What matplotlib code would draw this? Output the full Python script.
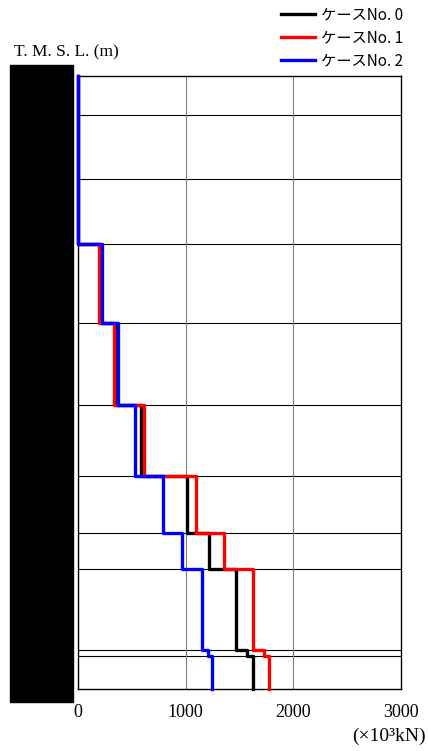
import matplotlib as mpl
mpl.use('Agg')
import matplotlib.pyplot as plt
from matplotlib.patches import Rectangle
import numpy as np

plt.rcParams['font.family'] = ['Liberation Serif', 'Noto Sans CJK JP', 'DejaVu Sans']

# floor levels (schematic position from top, no labels shown)
levels = [0, 39, 103, 168, 247, 329, 400, 457, 493, 574, 580, 613]

# shear force per storey (x10^3 kN), top to bottom
case0 = [0, 0, 0, 205, 340, 582, 1009, 1216, 1464, 1572, 1628]
case1 = [0, 0, 0, 198, 337, 613, 1093, 1358, 1628, 1727, 1773]
case2 = [0, 0, 0, 220, 368, 529, 792, 963, 1148, 1210, 1247]

labels = ['ケースNo. 0', 'ケースNo. 1', 'ケースNo. 2']
colors = ['black', 'red', 'blue']
xticks = [0, 1000, 2000, 3000]


def step_xy(vals):
    xs, ys = [], []
    for i, v in enumerate(vals):
        xs += [v, v]
        ys += [levels[i], levels[i + 1]]
    return xs, ys


fig = plt.figure(figsize=(4.28, 7.51), dpi=100)
ax = fig.add_axes([0.1822, 0.0826, 0.7547, 0.8162])

for lv in levels[1:-1]:
    ax.axhline(lv, color='black', lw=0.8, zorder=1)
for xv in xticks[1:-1]:
    ax.axvline(xv, color='gray', lw=0.8, zorder=1)

handles = []
for vals, c, lab in zip([case0, case1, case2], colors, labels):
    xs, ys = step_xy(vals)
    h, = ax.plot(xs, ys, color=c, lw=2.4, label=lab, zorder=3, clip_on=False)
    handles.append(h)

ax.set_xlim(0, 3000)
ax.set_ylim(levels[-1], levels[0])
ax.set_xticks(xticks)
ax.set_xticklabels([str(v) for v in xticks], fontsize=13)
ax.tick_params(axis='x', length=0, pad=11)
ax.set_yticks([])
for s in ax.spines.values():
    s.set_linewidth(1.0)

fig.patches.append(Rectangle((0.0234, 0.0652), 0.1472, 0.8482,
                             transform=fig.transFigure, color='black', zorder=0))

fig.text(0.033, 0.930, 'T. M. S. L. (m)', fontsize=12.5, va='center', ha='left')
fig.text(0.995, 0.019, '(×10³kN)', fontsize=14, va='center', ha='right')

fig.legend(handles=handles, loc='upper left', bbox_to_anchor=(0.65, 0.995), frameon=False,
           prop={'family': ['Noto Sans CJK JP', 'DejaVu Sans'], 'size': 11},
           handlelength=2.2, handletextpad=0.4, labelspacing=0.38, borderaxespad=0.0,
           borderpad=0.2)

fig.savefig('out.png', dpi=100)
